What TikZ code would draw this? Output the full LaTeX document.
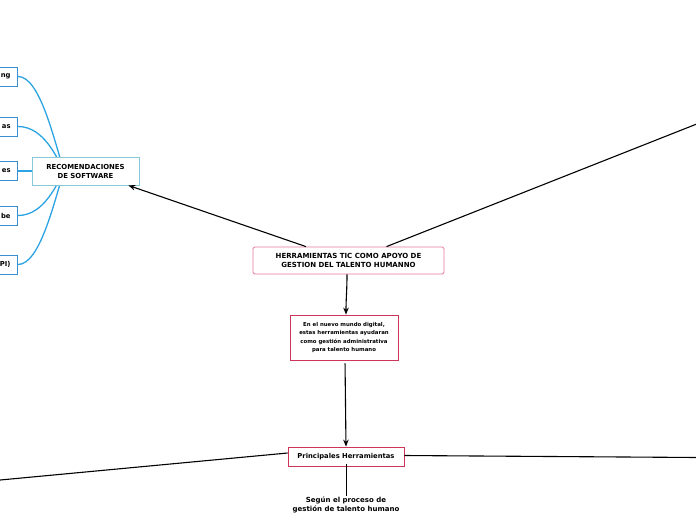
\documentclass[tikz,border=0pt]{standalone}
\usepackage{fontspec}
\setmainfont{DejaVu Sans}
\usetikzlibrary{arrows.meta}
\definecolor{pinkb}{HTML}{E47A9C}
\definecolor{crim}{HTML}{CF3558}
\definecolor{tealb}{HTML}{86C8D8}
\definecolor{blueb}{HTML}{3A8FD0}
\definecolor{bluec}{HTML}{2CA3E2}
\begin{document}
\begin{tikzpicture}[x=1pt,y=-1pt,
  basebox/.style={draw, fill=white, align=center, inner sep=0pt, line width=0.8pt},
  mainbox/.style={basebox, draw=pinkb, minimum width=191pt, minimum height=27pt, rounded corners=1.5pt, font=\bfseries\fontsize{7}{9}\selectfont},
  descbox/.style={basebox, draw=crim, minimum width=108pt, minimum height=45pt, font=\bfseries\fontsize{5.4}{8.4}\selectfont},
  princbox/.style={basebox, draw=crim, minimum width=116pt, minimum height=19pt, font=\bfseries\fontsize{6.8}{8}\selectfont},
  recobox/.style={basebox, draw=tealb, minimum width=107pt, minimum height=28pt, font=\bfseries\fontsize{6.9}{9}\selectfont},
  childbox/.style={draw=blueb, fill=white, line width=0.8pt, anchor=east, text width=66pt, align=right, inner xsep=7pt, inner ysep=0pt, minimum height=19pt, font=\bfseries\fontsize{6.8}{8}\selectfont},
  plaintext/.style={align=center, inner sep=1pt, font=\bfseries\fontsize{7}{9}\selectfont},
  blk/.style={line width=1.1pt, black},
  arr/.style={blk, -{Stealth[length=7pt,width=5.5pt]}},
  bcurve/.style={line width=1.3pt, bluec}
]
\useasboundingbox (0,0) rectangle (696,520);

% children of recomendaciones
\node[childbox] (c1) at (18,76.5) {ng};
\node[childbox] (c2) at (18,126.5) {as};
\node[childbox] (c3) at (18,171) {es};
\node[childbox] (c4) at (18,215.5) {be};
\node[childbox] (c5) at (18,264.5) {PI)};
\coordinate (hub) at (64,171);
\draw[bcurve] (c1.east) .. controls (40,76.5) and (54,140) .. (hub);
\draw[bcurve] (c2.east) .. controls (44,126.5) and (57,158) .. (hub);
\draw[bcurve] (c4.east) .. controls (44,215.5) and (57,184) .. (hub);
\draw[bcurve] (c5.east) .. controls (40,264.5) and (54,202) .. (hub);

\node[recobox] (reco) at (85.5,171) {RECOMENDACIONES\\DE SOFTWARE};
\draw[bcurve] (c3.east) -- (reco.west);

\node[mainbox] (main) at (348.5,260.5) {HERRAMIENTAS TIC COMO APOYO DE\\GESTION DEL TALENTO HUMANNO};
\node[descbox] (desc) at (344,337.5) {En el nuevo mundo digital,\\estas herramientas ayudaran\\como gestión administrativa\\para talento humano};
\node[princbox] (princ) at (346,456.5) {Principales Herramientas};
\node[plaintext] (segun) at (346,505) {Según el proceso de\\gestión de talento humano};

\coordinate (ur) at (698,123.5);
\coordinate (ll) at (-2,480.2);
\coordinate (rr) at (698,457.5);

\draw[arr] ([xshift=-42.5pt]main.north) -- ([xshift=-11pt]reco.south east);
\draw[blk] ([xshift=38pt]main.north) -- (ur);
\draw[arr] ([xshift=-1.5pt]main.south) to[out=-90,in=90] ([xshift=2pt]desc.north);
\draw[arr, shorten <=3pt] ([xshift=1pt]desc.south) -- (princ.north);
\draw[blk] ([yshift=3.5pt]princ.west) -- (ll);
\draw[blk] ([yshift=1pt]princ.east) -- (rr);
\draw[blk, line width=0.9pt] ([yshift=2pt]princ.south) -- (segun.north);
\end{tikzpicture}
\end{document}
